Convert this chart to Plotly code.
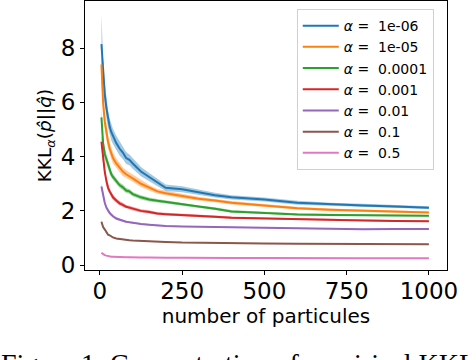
import plotly.graph_objects as go

# number of particules
n_particles = [5, 10, 15, 20, 25, 30, 35, 40, 50, 60, 70, 80, 90, 100,
               125, 150, 175, 200, 250, 300, 350, 400, 500, 600, 700, 800, 900, 1000]

alpha_labels = ["1e-06", "1e-05", "0.0001", "0.001", "0.01", "0.1", "0.5"]
colors = ["#1f77b4", "#ff7f0e", "#2ca02c", "#d62728", "#9467bd", "#8c564b", "#e377c2"]

kkl_1e6 = [8.15, 7.0, 6.3, 5.8, 5.4, 5.1, 4.9, 4.75, 4.5, 4.3, 4.15, 3.95, 3.88, 3.75,
           3.45, 3.25, 3.05, 2.85, 2.8, 2.68, 2.58, 2.5, 2.42, 2.3, 2.24, 2.2, 2.16, 2.12]
kkl_1e5 = [7.4, 6.0, 5.3, 4.9, 4.55, 4.3, 4.1, 3.95, 3.75, 3.6, 3.45, 3.35, 3.28, 3.2,
           3.0, 2.85, 2.72, 2.65, 2.55, 2.45, 2.38, 2.3, 2.2, 2.1, 2.04, 2.0, 1.97, 1.94]
kkl_1e4 = [5.45, 4.5, 4.1, 3.9, 3.7, 3.5, 3.35, 3.25, 3.1, 2.95, 2.87, 2.75, 2.72, 2.62,
           2.5, 2.42, 2.37, 2.33, 2.25, 2.15, 2.08, 1.98, 1.93, 1.87, 1.85, 1.84, 1.83, 1.82]
kkl_1e3 = [4.55, 3.9, 3.45, 3.1, 2.85, 2.72, 2.6, 2.5, 2.38, 2.28, 2.22, 2.15, 2.12, 2.08,
           2.0, 1.96, 1.9, 1.88, 1.84, 1.81, 1.78, 1.75, 1.72, 1.7, 1.67, 1.65, 1.63, 1.62]
kkl_1e2 = [2.9, 2.55, 2.3, 2.12, 2.0, 1.92, 1.86, 1.8, 1.72, 1.67, 1.63, 1.6, 1.58, 1.56,
           1.52, 1.49, 1.46, 1.44, 1.42, 1.41, 1.4, 1.39, 1.37, 1.35, 1.34, 1.32, 1.33, 1.33]
kkl_1e1 = [1.6, 1.4, 1.32, 1.2, 1.12, 1.1, 1.05, 1.02, 0.98, 0.96, 0.94, 0.93, 0.92, 0.91,
           0.89, 0.87, 0.86, 0.85, 0.83, 0.82, 0.81, 0.8, 0.8, 0.79, 0.78, 0.78, 0.77, 0.77]
kkl_05 = [0.45, 0.4, 0.37, 0.35, 0.33, 0.32, 0.31, 0.31, 0.3, 0.3, 0.29, 0.29, 0.29, 0.28,
          0.28, 0.28, 0.27, 0.27, 0.27, 0.26, 0.26, 0.26, 0.26, 0.25, 0.25, 0.25, 0.25, 0.25]

# spread (half width of the shaded band)
std_1e6 = [1.1, 0.6, 0.45, 0.38, 0.33, 0.3, 0.3, 0.28, 0.27, 0.26, 0.24, 0.22, 0.2, 0.2,
           0.17, 0.15, 0.13, 0.12, 0.11, 0.1, 0.09, 0.08, 0.07, 0.07, 0.06, 0.06, 0.05, 0.05]
std_1e5 = [0.6, 0.4, 0.32, 0.28, 0.25, 0.22, 0.2, 0.2, 0.18, 0.17, 0.16, 0.15, 0.14, 0.13,
           0.12, 0.1, 0.09, 0.09, 0.08, 0.07, 0.06, 0.06, 0.05, 0.05, 0.05, 0.04, 0.04, 0.04]
std_1e4 = [0.35, 0.25, 0.2, 0.17, 0.15, 0.14, 0.13, 0.12, 0.11, 0.1, 0.1, 0.09, 0.09, 0.08,
           0.08, 0.07, 0.07, 0.06, 0.06, 0.05, 0.05, 0.05, 0.04, 0.04, 0.04, 0.04, 0.03, 0.03]
std_1e3 = [0.25, 0.18, 0.15, 0.13, 0.12, 0.11, 0.1, 0.1, 0.09, 0.08, 0.08, 0.07, 0.07, 0.07,
           0.06, 0.06, 0.05, 0.05, 0.05, 0.04, 0.04, 0.04, 0.04, 0.03, 0.03, 0.03, 0.03, 0.03]
std_1e2 = [0.12, 0.1, 0.08, 0.07, 0.06, 0.06, 0.05, 0.05, 0.05, 0.04, 0.04, 0.04, 0.04, 0.03,
           0.03, 0.03, 0.03, 0.03, 0.02, 0.02, 0.02, 0.02, 0.02, 0.02, 0.02, 0.02, 0.02, 0.02]
std_1e1 = [0.06, 0.05, 0.04, 0.04, 0.03, 0.03, 0.03, 0.03, 0.02, 0.02, 0.02, 0.02, 0.02, 0.02,
           0.02, 0.02, 0.02, 0.01, 0.01, 0.01, 0.01, 0.01, 0.01, 0.01, 0.01, 0.01, 0.01, 0.01]
std_05 = [0.02, 0.02, 0.01, 0.01, 0.01, 0.01, 0.01, 0.01, 0.01, 0.01, 0.01, 0.01, 0.01, 0.01,
          0.01, 0.01, 0.01, 0.01, 0.01, 0.01, 0.01, 0.01, 0.01, 0.01, 0.01, 0.01, 0.01, 0.01]

means = [kkl_1e6, kkl_1e5, kkl_1e4, kkl_1e3, kkl_1e2, kkl_1e1, kkl_05]
stds = [std_1e6, std_1e5, std_1e4, std_1e3, std_1e2, std_1e1, std_05]

FONT = "DejaVu Sans, sans-serif"


def _rgba(hex_color, a):
    h = hex_color.lstrip("#")
    return f"rgba({int(h[0:2], 16)},{int(h[2:4], 16)},{int(h[4:6], 16)},{a})"


fig = go.Figure()
for label, color, mean, std in zip(alpha_labels, colors, means, stds):
    upper = [m + s for m, s in zip(mean, std)]
    lower = [m - s for m, s in zip(mean, std)]
    fig.add_scatter(
        x=n_particles + n_particles[::-1], y=upper + lower[::-1],
        fill="toself", fillcolor=_rgba(color, 0.4), line=dict(width=0),
        mode="lines", showlegend=False, hoverinfo="skip",
    )
    fig.add_scatter(
        x=n_particles, y=mean, mode="lines", name=f"<i>α</i> =  {label}",
        line=dict(color=color, width=2),
    )

# figure caption, cut by the bottom edge as in the source
fig.add_annotation(
    text="Figure 1: Concentration of empirical KKL",
    xref="paper", yref="paper", x=-0.237, y=-0.281, xanchor="left", yanchor="top",
    showarrow=False, font=dict(family="Liberation Serif, serif", size=28, color="black"),
)

fig.update_layout(
    width=476, height=360,
    margin=dict(l=85, r=29, t=1, b=90),
    paper_bgcolor="white", plot_bgcolor="white",
    font=dict(family=FONT, color="black", size=20),
    showlegend=True,
    legend=dict(
        x=0.585, y=0.97, xanchor="left", yanchor="top",
        bgcolor="white", bordercolor="#d0d0d0", borderwidth=1,
        font=dict(family=FONT, size=14, color="black"),
        itemwidth=36,
    ),
)
fig.update_xaxes(
    range=[-45, 1055], tickvals=[0, 250, 500, 750, 1000], automargin=False,
    showgrid=False, zeroline=False, showline=True, mirror=True,
    linecolor="black", linewidth=1, ticks="outside", ticklen=4, tickcolor="black",
    tickfont=dict(size=23), ticklabelstandoff=-4,
    title=dict(text="number of particules", font=dict(size=20), standoff=0),
)
fig.update_yaxes(
    range=[-0.18, 9.74], tickvals=[0, 2, 4, 6, 8], automargin=False,
    showgrid=False, zeroline=False, showline=True, mirror=True,
    linecolor="black", linewidth=1, ticks="outside", ticklen=4, tickcolor="black",
    tickfont=dict(size=23),
    title=dict(text="KKL<sub><i>α</i></sub>(<i>p̂</i>||<i>q̂</i>)", font=dict(size=18.5), standoff=4),
)

# drop the browser's default page margin so the figure sits at the window corner
fig.write_html(
    "out.html",
    config={"displayModeBar": False},
    post_script="document.body.style.margin = '0';",
)
